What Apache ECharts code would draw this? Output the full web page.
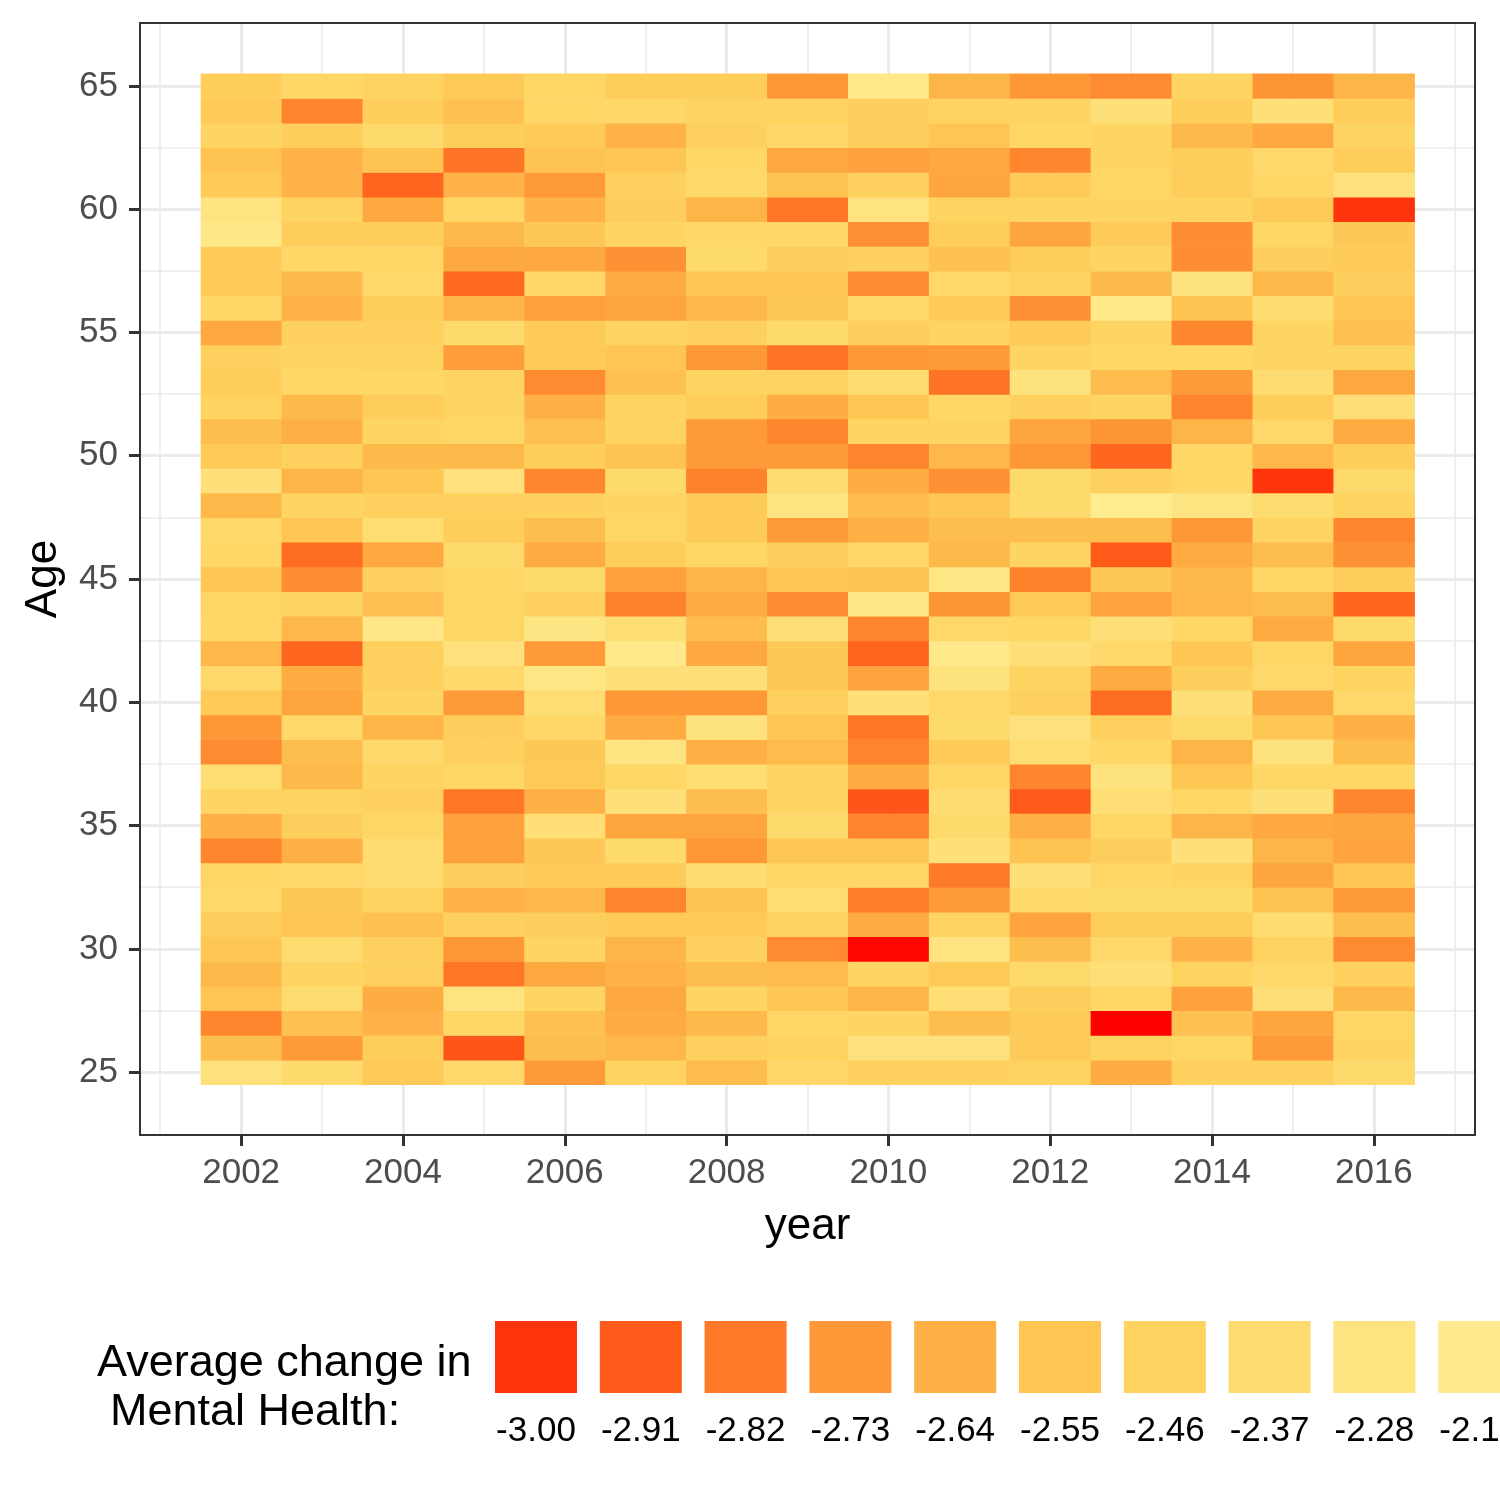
<!DOCTYPE html>
<html>
<head>
<meta charset="utf-8">
<script src="https://cdn.jsdelivr.net/npm/echarts@6/dist/echarts.min.js"></script>
<style>
  html, body { margin: 0; padding: 0; background: #fff; }
  #chart { width: 1500px; height: 1500px; }
</style>
</head>
<body>
<div id="chart"></div>
<script>
// years along x, one column each
var years = [2002, 2003, 2004, 2005, 2006, 2007, 2008, 2009, 2010, 2011, 2012, 2013, 2014, 2015, 2016];

// average change in mental health, one row per age (values for 2002..2016)
var age65 = [-2.50, -2.42, -2.46, -2.52, -2.43, -2.50, -2.50, -2.73, -2.22, -2.62, -2.73, -2.77, -2.44, -2.74, -2.62];
var age64 = [-2.51, -2.79, -2.50, -2.57, -2.42, -2.41, -2.46, -2.46, -2.49, -2.46, -2.44, -2.31, -2.50, -2.32, -2.50];
var age63 = [-2.45, -2.50, -2.39, -2.50, -2.51, -2.63, -2.47, -2.41, -2.49, -2.55, -2.42, -2.45, -2.60, -2.67, -2.45];
var age62 = [-2.56, -2.63, -2.56, -2.84, -2.56, -2.54, -2.42, -2.67, -2.70, -2.67, -2.78, -2.45, -2.50, -2.40, -2.50];
var age61 = [-2.51, -2.63, -2.88, -2.63, -2.72, -2.47, -2.40, -2.56, -2.47, -2.68, -2.51, -2.43, -2.50, -2.42, -2.30];
var age60 = [-2.28, -2.44, -2.67, -2.42, -2.63, -2.49, -2.62, -2.83, -2.28, -2.46, -2.45, -2.44, -2.44, -2.52, -3.00];
var age59 = [-2.24, -2.50, -2.50, -2.60, -2.53, -2.44, -2.41, -2.41, -2.75, -2.50, -2.68, -2.51, -2.76, -2.43, -2.53];
var age58 = [-2.51, -2.42, -2.43, -2.67, -2.67, -2.75, -2.39, -2.49, -2.48, -2.57, -2.50, -2.44, -2.76, -2.49, -2.51];
var age57 = [-2.51, -2.60, -2.40, -2.87, -2.41, -2.65, -2.54, -2.54, -2.77, -2.40, -2.46, -2.60, -2.29, -2.60, -2.49];
var age56 = [-2.42, -2.63, -2.50, -2.62, -2.70, -2.68, -2.61, -2.53, -2.40, -2.51, -2.75, -2.20, -2.56, -2.36, -2.55];
var age55 = [-2.67, -2.47, -2.48, -2.39, -2.51, -2.45, -2.47, -2.38, -2.49, -2.44, -2.51, -2.44, -2.78, -2.44, -2.57];
var age54 = [-2.47, -2.44, -2.46, -2.71, -2.52, -2.55, -2.73, -2.84, -2.73, -2.72, -2.45, -2.42, -2.42, -2.44, -2.44];
var age53 = [-2.50, -2.42, -2.42, -2.44, -2.77, -2.57, -2.46, -2.46, -2.36, -2.84, -2.29, -2.59, -2.72, -2.36, -2.67];
var age52 = [-2.46, -2.60, -2.50, -2.44, -2.64, -2.46, -2.50, -2.65, -2.54, -2.42, -2.48, -2.44, -2.79, -2.50, -2.33];
var age51 = [-2.58, -2.64, -2.45, -2.43, -2.57, -2.46, -2.72, -2.78, -2.45, -2.45, -2.68, -2.74, -2.62, -2.40, -2.66];
var age50 = [-2.52, -2.48, -2.60, -2.60, -2.50, -2.56, -2.72, -2.72, -2.79, -2.61, -2.73, -2.88, -2.42, -2.61, -2.50];
var age49 = [-2.32, -2.62, -2.54, -2.30, -2.78, -2.38, -2.80, -2.36, -2.65, -2.75, -2.38, -2.48, -2.42, -3.00, -2.38];
var age48 = [-2.60, -2.45, -2.47, -2.47, -2.47, -2.44, -2.51, -2.27, -2.59, -2.54, -2.38, -2.18, -2.27, -2.37, -2.46];
var age47 = [-2.40, -2.55, -2.35, -2.50, -2.58, -2.43, -2.51, -2.72, -2.64, -2.58, -2.58, -2.58, -2.73, -2.45, -2.78];
var age46 = [-2.42, -2.86, -2.67, -2.39, -2.66, -2.50, -2.42, -2.49, -2.41, -2.60, -2.44, -2.91, -2.66, -2.58, -2.75];
var age45 = [-2.54, -2.76, -2.47, -2.42, -2.38, -2.70, -2.62, -2.54, -2.56, -2.25, -2.80, -2.53, -2.60, -2.42, -2.50];
var age44 = [-2.43, -2.45, -2.57, -2.43, -2.48, -2.80, -2.66, -2.77, -2.24, -2.74, -2.52, -2.69, -2.61, -2.58, -2.88];
var age43 = [-2.42, -2.61, -2.23, -2.43, -2.26, -2.35, -2.59, -2.33, -2.78, -2.40, -2.42, -2.33, -2.42, -2.66, -2.38];
var age42 = [-2.61, -2.88, -2.48, -2.30, -2.72, -2.21, -2.67, -2.53, -2.88, -2.22, -2.33, -2.40, -2.54, -2.43, -2.68];
var age41 = [-2.40, -2.65, -2.48, -2.40, -2.25, -2.31, -2.33, -2.53, -2.69, -2.29, -2.45, -2.66, -2.49, -2.40, -2.46];
var age40 = [-2.52, -2.68, -2.45, -2.72, -2.35, -2.73, -2.73, -2.48, -2.32, -2.40, -2.48, -2.86, -2.32, -2.66, -2.40];
var age39 = [-2.73, -2.40, -2.62, -2.49, -2.41, -2.66, -2.29, -2.55, -2.83, -2.38, -2.30, -2.47, -2.39, -2.54, -2.64];
var age38 = [-2.77, -2.58, -2.40, -2.48, -2.53, -2.27, -2.64, -2.59, -2.79, -2.51, -2.35, -2.42, -2.62, -2.29, -2.58];
var age37 = [-2.35, -2.60, -2.45, -2.42, -2.52, -2.43, -2.35, -2.44, -2.66, -2.42, -2.79, -2.29, -2.54, -2.42, -2.42];
var age36 = [-2.45, -2.46, -2.48, -2.83, -2.64, -2.31, -2.58, -2.44, -2.92, -2.36, -2.91, -2.34, -2.42, -2.31, -2.78];
var age35 = [-2.64, -2.49, -2.43, -2.70, -2.34, -2.68, -2.68, -2.38, -2.79, -2.39, -2.64, -2.42, -2.62, -2.67, -2.68];
var age34 = [-2.78, -2.64, -2.36, -2.70, -2.53, -2.38, -2.73, -2.54, -2.54, -2.31, -2.56, -2.49, -2.31, -2.62, -2.69];
var age33 = [-2.43, -2.40, -2.37, -2.49, -2.51, -2.51, -2.36, -2.43, -2.42, -2.82, -2.31, -2.42, -2.44, -2.68, -2.54];
var age32 = [-2.40, -2.53, -2.46, -2.63, -2.61, -2.79, -2.56, -2.35, -2.81, -2.72, -2.40, -2.39, -2.38, -2.56, -2.72];
var age31 = [-2.49, -2.54, -2.57, -2.48, -2.49, -2.51, -2.51, -2.46, -2.66, -2.46, -2.69, -2.50, -2.50, -2.36, -2.58];
var age30 = [-2.54, -2.37, -2.48, -2.73, -2.44, -2.62, -2.47, -2.77, -3.08, -2.28, -2.58, -2.40, -2.63, -2.46, -2.77];
var age29 = [-2.60, -2.44, -2.47, -2.83, -2.67, -2.63, -2.58, -2.59, -2.45, -2.52, -2.38, -2.33, -2.46, -2.40, -2.47];
var age28 = [-2.55, -2.37, -2.65, -2.28, -2.44, -2.67, -2.45, -2.54, -2.62, -2.34, -2.49, -2.42, -2.70, -2.33, -2.60];
var age27 = [-2.78, -2.57, -2.63, -2.42, -2.57, -2.66, -2.60, -2.42, -2.44, -2.58, -2.51, -3.10, -2.57, -2.68, -2.43];
var age26 = [-2.58, -2.72, -2.50, -2.92, -2.58, -2.61, -2.48, -2.46, -2.30, -2.30, -2.51, -2.46, -2.43, -2.72, -2.45];
var age25 = [-2.30, -2.39, -2.52, -2.40, -2.72, -2.46, -2.59, -2.41, -2.48, -2.47, -2.46, -2.66, -2.47, -2.47, -2.38];

var ageRows = {
  65: age65, 64: age64, 63: age63, 62: age62, 61: age61, 60: age60, 59: age59, 58: age58,
  57: age57, 56: age56, 55: age55, 54: age54, 53: age53, 52: age52, 51: age51, 50: age50,
  49: age49, 48: age48, 47: age47, 46: age46, 45: age45, 44: age44, 43: age43, 42: age42,
  41: age41, 40: age40, 39: age39, 38: age38, 37: age37, 36: age36, 35: age35, 34: age34,
  33: age33, 32: age32, 31: age31, 30: age30, 29: age29, 28: age28, 27: age27, 26: age26, 25: age25
};

// tick positions
var xMajor = [2002, 2004, 2006, 2008, 2010, 2012, 2014, 2016];
var xMinor = [2001, 2003, 2005, 2007, 2009, 2011, 2013, 2015, 2017];
var yMajor = [25, 30, 35, 40, 45, 50, 55, 60, 65];
var yMinor = [27.5, 32.5, 37.5, 42.5, 47.5, 52.5, 57.5, 62.5];

// legend breaks
var legendValues = [-3.00, -2.91, -2.82, -2.73, -2.64, -2.55, -2.46, -2.37, -2.28, -2.19];

// fill scale, stops evenly spaced from colorMin to colorMax (step 0.09)
var colorMin = -3.09;
var colorMax = -2.10;
var colorStops = ['#FF0000', '#FF330C', '#FE5A1A', '#FE7A28', '#FE9836', '#FEB045',
                  '#FEC553', '#FED360', '#FEDB6F', '#FEE380', '#FFEB8D', '#FFF49C'];

var FONT = '"Liberation Sans", Arial, Helvetica, sans-serif';
var FRAME = { show: true, onZero: false, lineStyle: { color: '#333', width: 2 } };

var data = [];
Object.keys(ageRows).forEach(function (age) {
  ageRows[age].forEach(function (v, j) {
    data.push([years[j], +age, v]);
  });
});

// legend keys + labels
var legendGraphics = [
  { type: 'text', x: 97, y: 1364, style: { text: 'Average change in', font: '45px ' + FONT, fill: '#000', verticalAlign: 'middle' } },
  { type: 'text', x: 110, y: 1413, style: { text: 'Mental Health:', font: '45px ' + FONT, fill: '#000', verticalAlign: 'middle' } }
];
legendValues.forEach(function (v, i) {
  var x0 = 495 + i * 104.8;
  var t = (v - colorMin) / (colorMax - colorMin);
  legendGraphics.push({
    type: 'rect',
    shape: { x: x0, y: 1321, width: 82, height: 72 },
    style: { fill: echarts.color.lerp(t, colorStops) }
  });
  legendGraphics.push({
    type: 'text',
    x: x0 + 41, y: 1431,
    style: { text: v.toFixed(2), font: '35px ' + FONT, fill: '#000', align: 'center', verticalAlign: 'middle' }
  });
});

var myChart = echarts.init(document.getElementById('chart'), null, { renderer: 'canvas' });

var option = {
  backgroundColor: '#fff',
  animation: false,
  grid: { left: 140, top: 23, width: 1335, height: 1112, show: false },
  visualMap: {
    type: 'continuous',
    show: false,
    min: colorMin,
    max: colorMax,
    dimension: 2,
    seriesIndex: 0,
    inRange: { color: colorStops }
  },
  xAxis: [{
    type: 'value', min: 2000.75, max: 2017.25, position: 'bottom',
    name: 'year', nameLocation: 'middle', nameGap: 70,
    nameTextStyle: { fontSize: 44, color: '#000', fontFamily: FONT },
    axisLine: FRAME,
    axisTick: { show: true, customValues: xMajor, length: 11, lineStyle: { color: '#333', width: 3 } },
    axisLabel: { customValues: xMajor, fontSize: 35, color: '#4D4D4D', fontFamily: FONT, margin: 21, formatter: function (v) { return String(v); } },
    splitLine: { show: true, lineStyle: { color: '#EBEBEB', width: 3 } }
  }, {
    type: 'value', min: 2000.75, max: 2017.25, position: 'top',
    axisLine: FRAME,
    axisTick: { show: false, customValues: xMinor },
    axisLabel: { show: false, customValues: xMinor },
    splitLine: { show: true, lineStyle: { color: '#EBEBEB', width: 1.6 } }
  }],
  yAxis: [{
    type: 'value', min: 22.45, max: 67.55, position: 'left',
    name: 'Age', nameLocation: 'middle', nameGap: 74, nameRotate: 90,
    nameTextStyle: { fontSize: 44, color: '#000', fontFamily: FONT },
    axisLine: FRAME,
    axisTick: { show: true, customValues: yMajor, length: 11, lineStyle: { color: '#333', width: 3 } },
    axisLabel: { customValues: yMajor, fontSize: 35, color: '#4D4D4D', fontFamily: FONT, margin: 22 },
    splitLine: { show: true, lineStyle: { color: '#EBEBEB', width: 3 } }
  }, {
    type: 'value', min: 22.45, max: 67.55, position: 'right',
    axisLine: FRAME,
    axisTick: { show: false, customValues: yMinor },
    axisLabel: { show: false, customValues: yMinor },
    splitLine: { show: true, lineStyle: { color: '#EBEBEB', width: 1.6 } }
  }],
  graphic: legendGraphics,
  series: [{
    type: 'custom',
    xAxisIndex: 0,
    yAxisIndex: 0,
    data: data,
    encode: { x: 0, y: 1 },
    renderItem: function (params, api) {
      var p = api.coord([api.value(0) - 0.5, api.value(1) + 0.5]);
      var s = api.size([1, 1]);
      return {
        type: 'rect',
        shape: { x: p[0], y: p[1], width: s[0] + 0.6, height: s[1] + 0.6 },
        style: { fill: api.visual('color') }
      };
    }
  }]
};

myChart.setOption(option);
</script>
</body>
</html>
